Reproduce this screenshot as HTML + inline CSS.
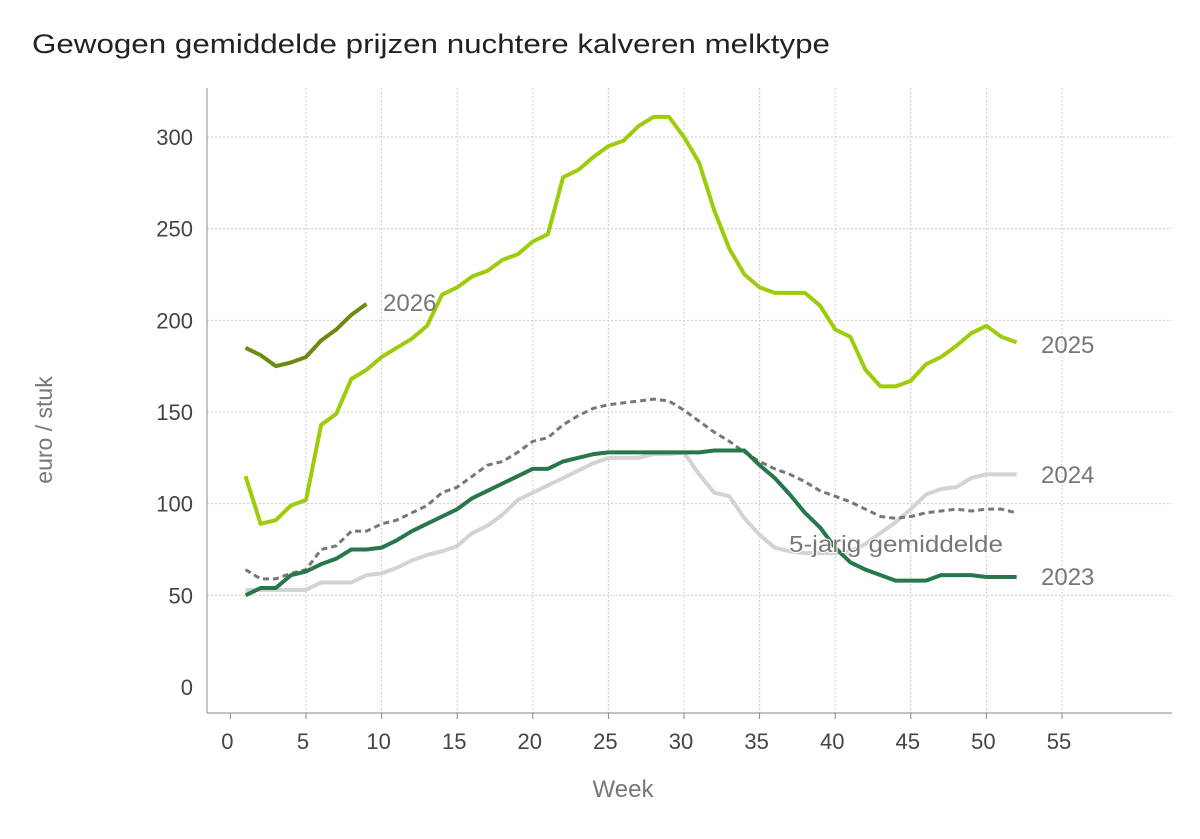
<!DOCTYPE html>
<html><head><meta charset="utf-8"><style>
body{margin:0;background:#fff;}
svg{display:block;font-family:"Liberation Sans",Arial,sans-serif;}
</style></head><body>
<svg id="c" width="1200" height="839" viewBox="0 0 1200 839" xmlns="http://www.w3.org/2000/svg">
<text x="32" y="53" font-size="27" fill="#222" textLength="798" lengthAdjust="spacingAndGlyphs">Gewogen gemiddelde prijzen nuchtere kalveren melktype</text>
<g id="grid"></g>
<line x1="207" y1="88" x2="207" y2="713" stroke="#888" stroke-width="1"/>
<line x1="207" y1="713" x2="1172" y2="713" stroke="#888" stroke-width="1"/>
<g id="lines"></g>
<text x="52" y="430" font-size="23" fill="#777" transform="rotate(-90 52 430)" text-anchor="middle" dy="0">euro / stuk</text>
<text x="623" y="797" font-size="24" fill="#777" text-anchor="middle">Week</text>
<text x="383" y="311" font-size="24" fill="#777">2026</text>
<text x="1041" y="353" font-size="24" fill="#777">2025</text>
<text x="1041" y="483" font-size="24" fill="#777">2024</text>
<text x="1041" y="585" font-size="24" fill="#777">2023</text>
<text x="789" y="552" font-size="23" fill="#777" stroke="#fff" stroke-width="2" paint-order="stroke" textLength="214" lengthAdjust="spacingAndGlyphs">5-jarig gemiddelde</text>
</svg>
<script>
var NS="http://www.w3.org/2000/svg";
function X(w){return 230.4+15.12*w;}
function Y(v){return 687-v*1.8333;}
var g=document.getElementById('grid'),L=document.getElementById('lines');
function el(p,t,a){var e=document.createElementNS(NS,t);for(var k in a)e.setAttribute(k,a[k]);p.appendChild(e);return e;}
for(var v=0;v<=300;v+=50){
 if(v>0)el(g,'line',{x1:207,x2:1172,y1:Y(v),y2:Y(v),stroke:'#ccc','stroke-dasharray':'2,2'});
 var t=el(g,'text',{x:193,y:Y(v)+8,'font-size':22,fill:'#444','text-anchor':'end'});t.textContent=v;
}
for(var w=0;w<=55;w+=5){
 if(w>0)el(g,'line',{x1:X(w),x2:X(w),y1:88,y2:713,stroke:'#ccc','stroke-dasharray':'2,2'});
 el(g,'line',{x1:X(w),x2:X(w),y1:713,y2:719,stroke:'#888'});
 var t=el(g,'text',{x:X(w)-3,y:749,'font-size':22,fill:'#444','text-anchor':'middle'});t.textContent=w;
}
function line(d,c,wd,dash){var p=d.map(function(v,i){return X(i+1)+','+Y(v)}).join(' ');
 var a={points:p,fill:'none',stroke:c,'stroke-width':wd,'stroke-linejoin':'round'};if(dash)a['stroke-dasharray']=dash;el(L,'polyline',a);}
var avg=[64,59,59,62,64,75,77,85,85,89,91,95,99,106,109,115,121,123,128,134,136,143,148,152,154,155,156,157,156,151,145,139,134,128,123,119,116,112,107,104,101,97,93,92,93,95,96,97,96,97,97,95];
var y24=[53,53,53,53,53,57,57,57,61,62,65,69,72,74,77,84,88,94,102,106,110,114,118,122,125,125,125,127,127,128,116,106,104,92,83,76,74,73,73,73,74,78,84,90,97,105,108,109,114,116,116,116];
var y23=[50,54,54,61,63,67,70,75,75,76,80,85,89,93,97,103,107,111,115,119,119,123,125,127,128,128,128,128,128,128,128,129,129,129,121,114,105,95,87,76,68,64,61,58,58,58,61,61,61,60,60,60];
var y25=[115,89,91,99,102,143,149,168,173,180,185,190,197,214,218,224,227,233,236,243,247,278,282,289,295,298,306,311,311,300,286,260,239,225,218,215,215,215,208,195,191,173,164,164,167,176,180,186,193,197,191,188];
var y26=[185,181,175,177,180,189,195,203,209];
line(y24,'#d3d3d3',4);
line(avg,'#777',3,'6,4');
line(y23,'#26774a',4);
line(y25,'#9ccc0a',4);
line(y26,'#6b8a0f',4);
</script>
</body></html>
